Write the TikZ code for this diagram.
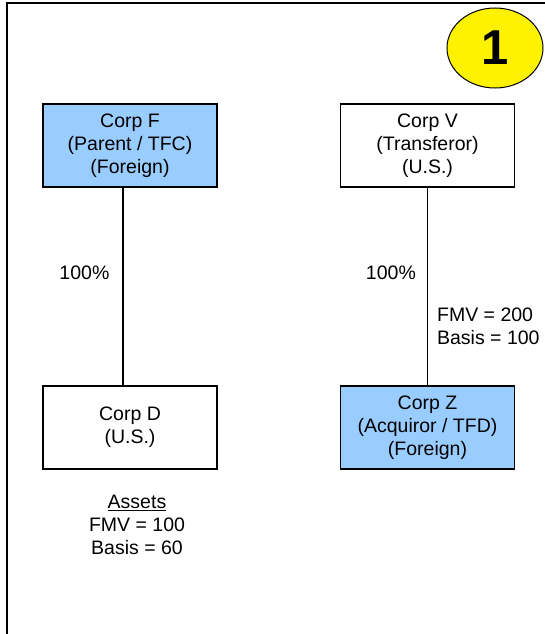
\documentclass[tikz,border=0pt]{standalone}
\usepackage{fontspec}
\setmainfont{Liberation Sans}
\usepackage{xcolor}
\usepackage{tikz}
\usetikzlibrary{shapes.geometric, positioning}
\definecolor{boxblue}{HTML}{99CCFF}
\tikzstyle{corpwhite} = [rectangle, minimum width=174pt, minimum height=83pt, text centered, align=center, draw=black, line width=1.2pt, font=\fontsize{19.5}{23}\selectfont]
\tikzstyle{corpblue} = [corpwhite, fill=boxblue]
\tikzstyle{amount} = [font=\fontsize{19.5}{23}\selectfont, align=left]
\tikzstyle{link} = [line width=1.2pt]

\begin{document}
\begin{tikzpicture}[x=1pt, y=1pt, node distance=282pt]
	\useasboundingbox (0,0) rectangle (544,-634);
	
	% Frame
	\draw [line width=2pt] (6.5,-640) -- (6.5,-3.5) -- (550,-3.5);
	
	% Nodes
	\node (corpF) [corpblue] at (130,-145.5) {Corp F\\(Parent / TFC)\\(Foreign)};
	\node (corpD) [corpwhite, below of=corpF] {Corp D\\(U.S.)};
	\node (corpV) [corpwhite, right of=corpF, xshift=15.5pt] {Corp V\\(Transferor)\\(U.S.)};
	\node (corpZ) [corpblue, below of=corpV] {Corp Z\\(Acquiror / TFD)\\(Foreign)};
	\node (assets) [amount, align=center, node distance=97.5pt, below of=corpD, xshift=7pt] {\underline{Assets}\\FMV = 100\\Basis = 60};
	\node (step) [ellipse, draw=black, line width=1pt, fill=yellow, minimum width=96pt, minimum height=80pt, font=\fontsize{49}{49}\selectfont\bfseries] at (495,-48) {1};
	
	% Lines
	\draw [link] ([xshift=-7pt]corpF.south) -- node[amount, pos=0.43, left=9.7pt] {100\%} ([xshift=-7pt]corpD.north);
	\draw [link] (corpV) -- node[amount, pos=0.43, left=7.7pt] {100\%} node[amount, pos=0.7, right=5.7pt] {FMV = 200\\Basis = 100} (corpZ);
	
\end{tikzpicture}
\end{document}
